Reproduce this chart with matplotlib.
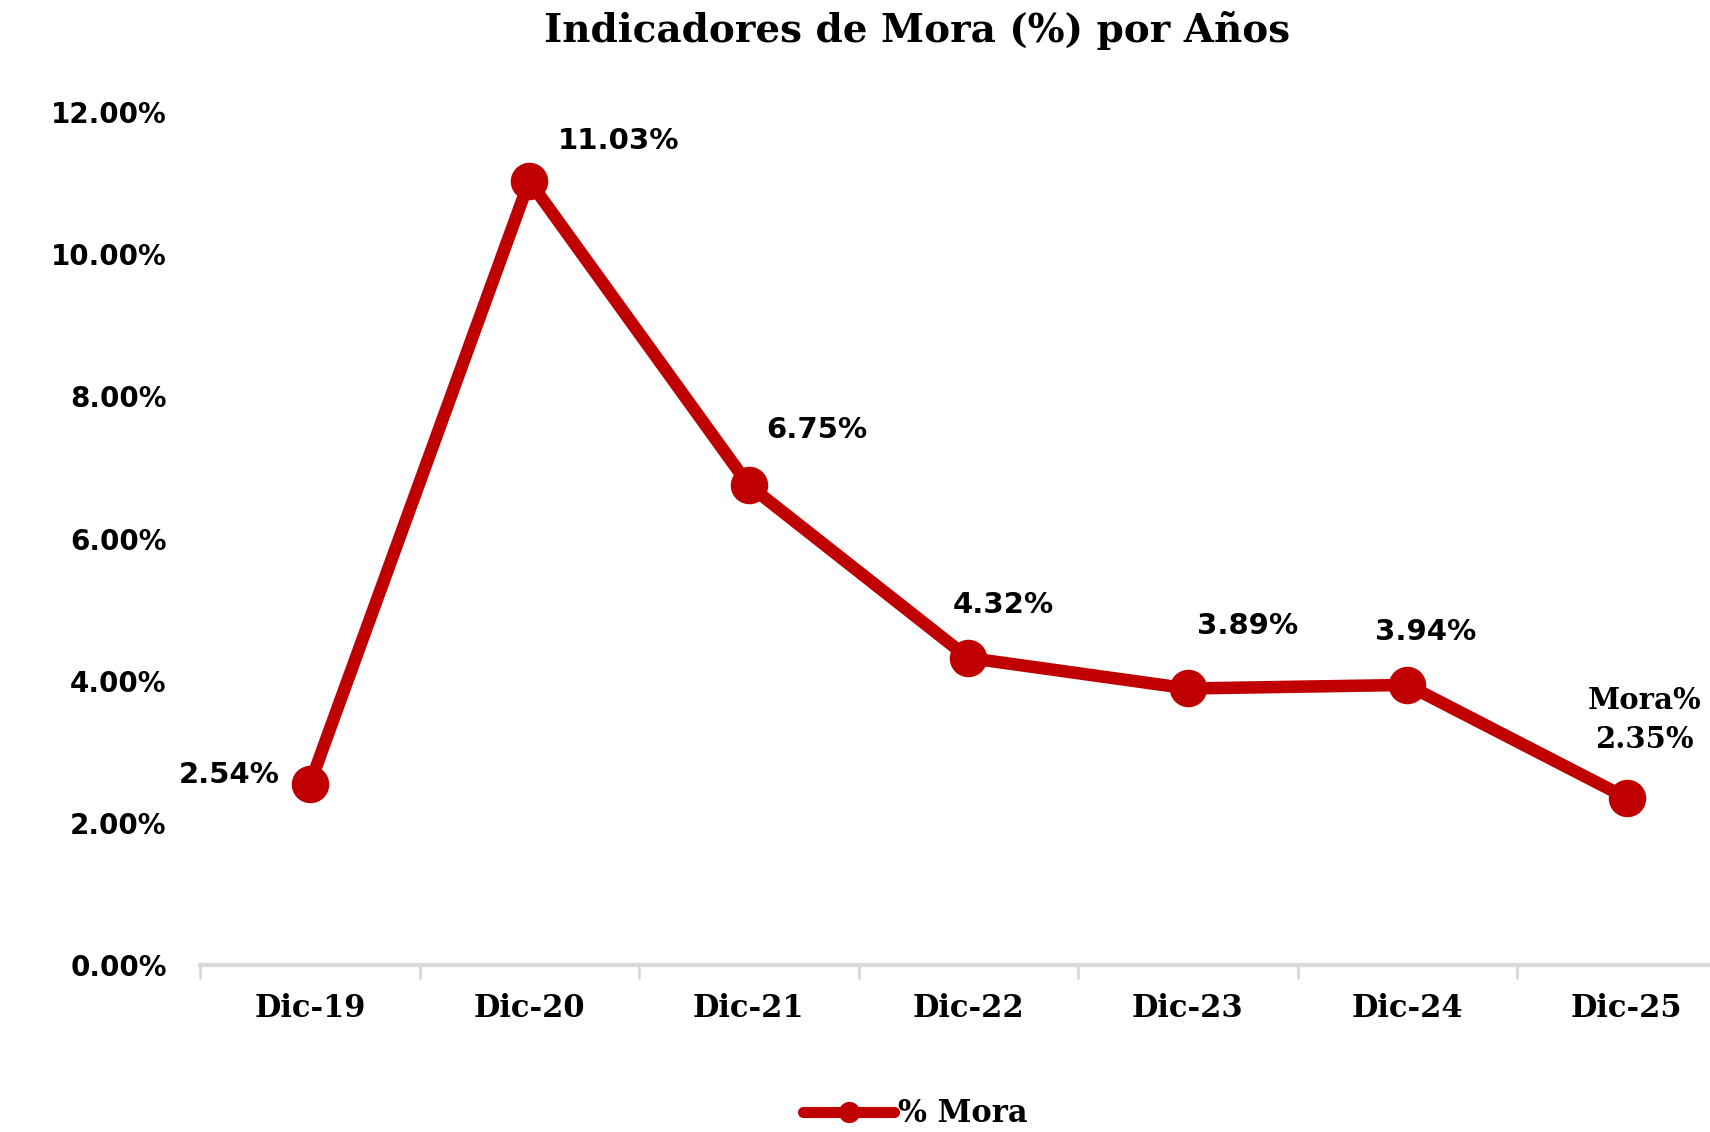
import matplotlib
matplotlib.use("Agg")
import matplotlib.pyplot as plt

categories = ["Dic-19", "Dic-20", "Dic-21", "Dic-22", "Dic-23", "Dic-24", "Dic-25"]
mora = [2.54, 11.03, 6.75, 4.32, 3.89, 3.94, 2.35]
point_labels = ["2.54%", "11.03%", "6.75%", "4.32%", "3.89%", "3.94%", "Mora%\n2.35%"]
y_ticks = [0, 2, 4, 6, 8, 10, 12]
y_tick_labels = ["0.00%", "2.00%", "4.00%", "6.00%", "8.00%", "10.00%", "12.00%"]

label_offsets = [(-58, 7), (64, 29), (49, 40), (25, 38), (43, 45), (13, 38), (13, 56)]

RED = "#C00000"
fig = plt.figure(figsize=(17.10, 11.32), dpi=100)
ax = fig.add_axes([200 / 1710, 167 / 1132, 1536.5 / 1710, 853 / 1132])

x = list(range(len(categories)))
ax.plot(x, mora, color=RED, lw=9, marker="o", ms=26, mec=RED, mfc=RED,
        label="% Mora", solid_capstyle="round", zorder=3)

ax.set_xlim(-0.5, len(categories) - 0.5)
ax.set_ylim(0, 12)
ax.set_yticks(y_ticks)
ax.set_yticklabels(y_tick_labels, fontfamily="DejaVu Sans", fontweight="bold", fontsize=20)
ax.tick_params(axis="y", length=0, pad=24)

ax.set_xticks(x)
ax.set_xticklabels(categories, fontfamily="DejaVu Serif", fontweight="bold", fontsize=22)
ax.tick_params(axis="x", length=0, pad=20)
ax.set_xticks([i - 0.5 for i in range(len(categories) + 1)], minor=True)
ax.tick_params(axis="x", which="minor", length=10, width=2, color="#D9D9D9")

for s in ["top", "right", "left"]:
    ax.spines[s].set_visible(False)
ax.spines["bottom"].set_color("#D9D9D9")
ax.spines["bottom"].set_linewidth(3)

for xi, yi, lab, off in zip(x, mora, point_labels, label_offsets):
    ax.annotate(lab, (xi, yi), xytext=off, textcoords="offset points",
                ha="center", va="center", fontsize=21, fontweight="bold",
                fontfamily=["DejaVu Serif"] if "Mora" in lab else ["DejaVu Sans"],
                linespacing=1.45, zorder=4)

fig.text(917 / 1710, 1 - 30 / 1132, "Indicadores de Mora (%) por Años",
         ha="center", va="center", fontsize=28, fontweight="bold", fontfamily="DejaVu Serif")

leg = fig.legend(loc="center", bbox_to_anchor=(915 / 1710, 1 - 1114 / 1132), frameon=False,
                 prop={"family": "DejaVu Serif", "weight": "bold", "size": 22},
                 handlelength=3.0, markerscale=0.55, handletextpad=0.1)
for line in leg.get_lines():
    line.set_linewidth(8)

fig.savefig("out.png", dpi=100, facecolor="white")
